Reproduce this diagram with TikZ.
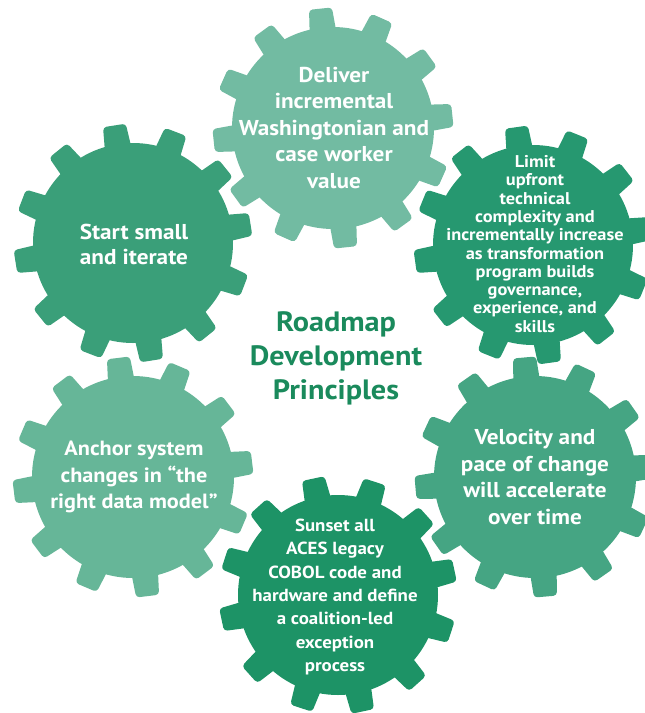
\documentclass[tikz,border=0pt]{standalone}
\usepackage{fontspec}
\setmainfont{PT Sans}[FakeStretch=1.08]
\definecolor{gA}{HTML}{72BBA2}
\definecolor{gB}{HTML}{3A9F79}
\definecolor{gC}{HTML}{269870}
\definecolor{gD}{HTML}{45A583}
\definecolor{gE}{HTML}{1D9366}
\definecolor{gF}{HTML}{66B698}
\definecolor{titlegreen}{HTML}{1A8A5C}
\newcommand{\mygear}[4]{% center, offset angle, colour, outer radius
  \begin{scope}[shift={(#1)}]
    \fill[#3] (0,0) circle (#4pt-19pt);
    \foreach \a in {0,30,...,330} {
      \fill[#3, rounded corners=3.5pt, rotate=\a+#2]
        (#4-26,-13.5) -- (#4,-11.5) -- (#4,11.5) -- (#4-26,13.5) -- cycle;
    }
  \end{scope}
}
\tikzset{
  geartext/.style={text=white, font=\bfseries, align=center, inner sep=0pt},
}
\begin{document}
\begin{tikzpicture}[x=1pt,y=-1pt]
\useasboundingbox (0,0) rectangle (645,713);
\begin{scope}
\clip (0,0) rectangle (645,713);
\mygear{333,128}{6}{gA}{120}
\mygear{133,243}{9}{gB}{119}
\mygear{533,245}{8}{gC}{119}
\mygear{535,477}{5}{gD}{120}
\mygear{338,595}{12}{gE}{119}
\mygear{133,477}{7}{gF}{120}
\end{scope}
\node[geartext, font=\bfseries\fontsize{21.5}{26.5}\selectfont] (deliver) at (334,128)
  {Deliver\\incremental\\Washingtonian and\\case worker\\value};
\node[geartext, font=\bfseries\fontsize{21.5}{25}\selectfont] (start) at (134,244)
  {Start small\\and iterate};
\node[geartext, font=\bfseries\fontsize{17}{18.3}\selectfont] (limit) at (535,244)
  {Limit\\upfront\\technical\\complexity and\\incrementally increase\\as transformation\\program builds\\governance,\\experience, and\\skills};
\node[geartext, font=\bfseries\fontsize{21.5}{26.7}\selectfont] (velocity) at (535,477)
  {Velocity and\\pace of change\\will accelerate\\over time};
\node[geartext, font=\bfseries\fontsize{17.5}{23.3}\selectfont] (sunset) at (335,597)
  {Sunset all\\ACES legacy\\COBOL code and\\hardware and define\\a coalition-led\\exception\\process};
\node[geartext, font=\bfseries\fontsize{20.6}{26.5}\selectfont] (anchor) at (134,477)
  {Anchor system\\changes in “the\\right data model”};
\node[text=titlegreen, align=center, inner sep=0pt, font=\bfseries\fontsize{28}{34}\selectfont] (title) at (336,358)
  {Roadmap\\Development\\Principles};
\end{tikzpicture}
\end{document}
